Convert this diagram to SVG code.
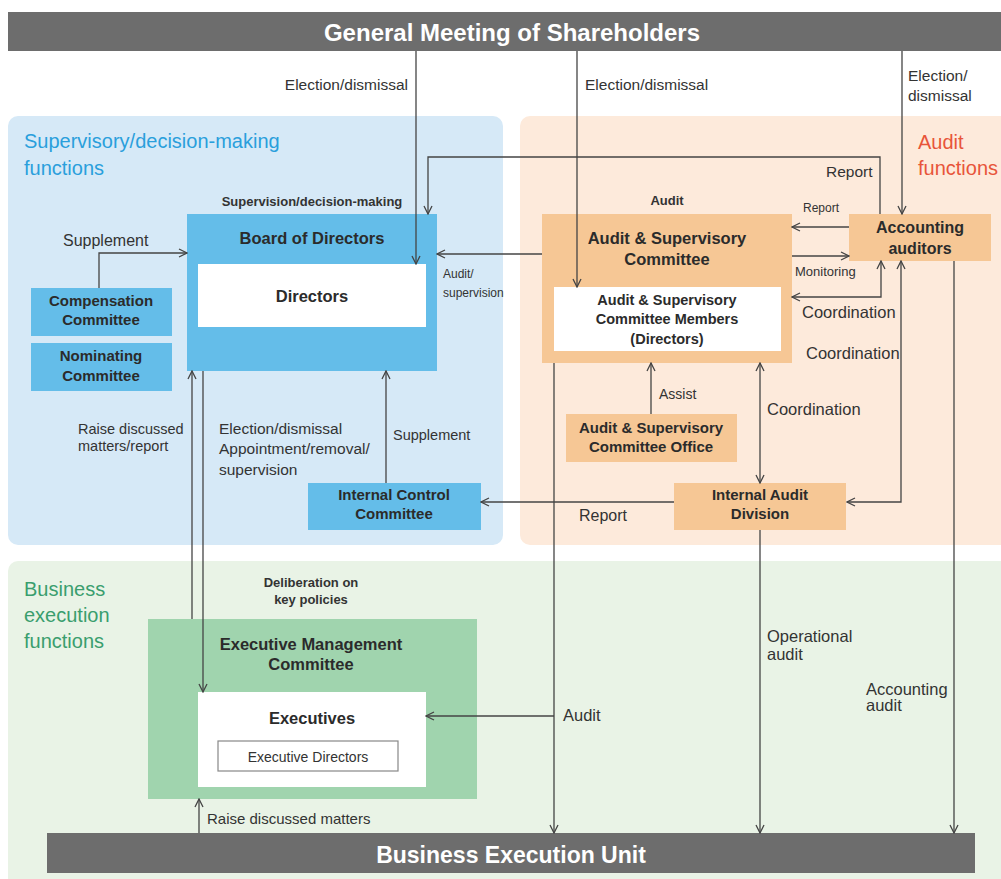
<svg xmlns="http://www.w3.org/2000/svg" width="1001" height="879" viewBox="0 0 1001 879">
<style>
text{font-family:"Liberation Sans",Arial,sans-serif;fill:#333}
.b{font-weight:bold}
.t{font-size:16px;font-weight:bold;text-anchor:middle;fill:#2b2b2b}
.s{font-size:15.5px}
.m{font-size:16.5px}
.xs{font-size:12px}
.c{text-anchor:middle}
.bar{font-size:24px;font-weight:bold;text-anchor:middle;fill:#fff}
.ln{fill:none;stroke:#444;stroke-width:1.3}
.blue{fill:#64bde9}
.org{fill:#f6c795}
.wh{fill:#fff}
</style>
<defs>
<marker id="a" viewBox="0 0 10 10" refX="9" refY="5" markerWidth="10" markerHeight="10" markerUnits="userSpaceOnUse" orient="auto-start-reverse">
<path d="M1,1 L9,5 L1,9" fill="none" stroke="#444" stroke-width="1.3"/>
</marker>
</defs>
<rect width="1001" height="879" fill="#fff"/>
<g id="regions">
<rect x="8" y="116" width="495" height="429" rx="10" fill="#d6e9f7"/>
<rect x="520" y="116" width="491" height="429" rx="10" fill="#fdeadb"/>
<rect x="8" y="561" width="1003" height="330" rx="10" fill="#e9f3e6"/>
<text x="24" y="148" style="font-size:20px;fill:#2a9fdc">Supervisory/decision-making</text>
<text x="24" y="175" style="font-size:20px;fill:#2a9fdc">functions</text>
<text x="918" y="149" style="font-size:20px;fill:#e8553a">Audit</text>
<text x="918" y="175" style="font-size:20px;fill:#e8553a">functions</text>
<text x="24" y="596" style="font-size:20px;fill:#3a9e6e">Business</text>
<text x="24" y="622" style="font-size:20px;fill:#3a9e6e">execution</text>
<text x="24" y="648" style="font-size:20px;fill:#3a9e6e">functions</text>
</g>
<g id="gms">
<rect x="8" y="12" width="993" height="39" fill="#6d6d6d"/>
<text x="512" y="41" class="bar">General Meeting of Shareholders</text>
</g>
<g id="beu">
<rect x="47" y="833" width="928" height="40" fill="#6d6d6d"/>
<text x="511" y="863" class="bar" style="font-size:23px">Business Execution Unit</text>
</g>
<g id="board">
<rect x="187" y="214" width="250" height="157" class="blue"/>
<text x="312" y="244" class="t" style="font-size:16.5px">Board of Directors</text>
<rect x="198" y="264" width="228" height="63" class="wh"/>
<text x="312" y="302" class="t" style="font-size:16.5px">Directors</text>
</g>
<g id="compensation">
<rect x="31" y="288" width="141" height="48" class="blue"/>
<text x="101" y="306" class="t" style="font-size:15px">Compensation</text>
<text x="101" y="325" class="t" style="font-size:15px">Committee</text>
</g>
<g id="nominating">
<rect x="31" y="343" width="141" height="48" class="blue"/>
<text x="101" y="361" class="t" style="font-size:15px">Nominating</text>
<text x="101" y="381" class="t" style="font-size:15px">Committee</text>
</g>
<g id="icc">
<rect x="308" y="483" width="173" height="47" class="blue"/>
<text x="394" y="500" class="t" style="font-size:15px">Internal Control</text>
<text x="394" y="519" class="t" style="font-size:15px">Committee</text>
</g>
<g id="asc">
<rect x="542" y="214" width="250" height="149" class="org"/>
<text x="667" y="244" class="t" style="font-size:16.5px">Audit &amp; Supervisory</text>
<text x="667" y="265" class="t" style="font-size:16.5px">Committee</text>
<rect x="554" y="287" width="227" height="64" class="wh"/>
<text x="667" y="305" class="t" style="font-size:14.5px">Audit &amp; Supervisory</text>
<text x="667" y="324" class="t" style="font-size:14.5px">Committee Members</text>
<text x="667" y="344" class="t" style="font-size:14.5px">(Directors)</text>
</g>
<g id="auditors">
<rect x="849" y="214" width="142" height="47" class="org"/>
<text x="920" y="233" class="t">Accounting</text>
<text x="920" y="254" class="t">auditors</text>
</g>
<g id="office">
<rect x="566" y="414" width="171" height="48" class="org"/>
<text x="651" y="433" class="t" style="font-size:15px">Audit &amp; Supervisory</text>
<text x="651" y="452" class="t" style="font-size:15px">Committee Office</text>
</g>
<g id="iad">
<rect x="674" y="483" width="172" height="47" class="org"/>
<text x="760" y="500" class="t" style="font-size:15px">Internal Audit</text>
<text x="760" y="519" class="t" style="font-size:15px">Division</text>
</g>
<g id="emc">
<rect x="148" y="619" width="329" height="180" fill="#a0d4ae"/>
<text x="311" y="650" class="t" style="font-size:16.5px">Executive Management</text>
<text x="311" y="670" class="t" style="font-size:16.5px">Committee</text>
<rect x="198" y="692" width="228" height="95" class="wh"/>
<text x="312" y="724" class="t" style="font-size:16.5px">Executives</text>
<rect x="218" y="741" width="180" height="30" fill="#fff" stroke="#888" stroke-width="1.2"/>
<text x="308" y="762" class="c" style="font-size:14px">Executive Directors</text>
</g>
<g id="connectors">
<path class="ln" d="M416,51 V264" marker-end="url(#a)"/>
<path class="ln" d="M880,214 V157 H428 V214" marker-end="url(#a)"/>
<path class="ln" d="M577,51 V287" marker-end="url(#a)"/>
<path class="ln" d="M902,51 V214" marker-end="url(#a)"/>
<path class="ln" d="M542,254 H437" marker-end="url(#a)"/>
<path class="ln" d="M849,227 H792" marker-end="url(#a)"/>
<path class="ln" d="M792,256 H849" marker-end="url(#a)"/>
<path class="ln" d="M792,297 H881 V261" marker-start="url(#a)" marker-end="url(#a)"/>
<path class="ln" d="M901,261 V502 H847" marker-start="url(#a)" marker-end="url(#a)"/>
<path class="ln" d="M651,414 V363" marker-end="url(#a)"/>
<path class="ln" d="M760,363 V483" marker-start="url(#a)" marker-end="url(#a)"/>
<path class="ln" d="M674,502 H481" marker-end="url(#a)"/>
<path class="ln" d="M386,483 V371" marker-end="url(#a)"/>
<path class="ln" d="M99,288 V253 H187" marker-end="url(#a)"/>
<path class="ln" d="M192,619 V371" marker-end="url(#a)"/>
<path class="ln" d="M203,371 V692" marker-end="url(#a)"/>
<path class="ln" d="M554,363 V833" marker-end="url(#a)"/>
<path class="ln" d="M554,716 H426" marker-end="url(#a)"/>
<path class="ln" d="M760,530 V833" marker-end="url(#a)"/>
<path class="ln" d="M954,261 V833" marker-end="url(#a)"/>
<path class="ln" d="M199,833 V799" marker-end="url(#a)"/>
</g>
<g id="labels">
<text x="408" y="90" class="s" text-anchor="end">Election/dismissal</text>
<text x="585" y="90" class="s">Election/dismissal</text>
<text x="908" y="81" class="s">Election/</text>
<text x="908" y="101" class="s">dismissal</text>
<text x="312" y="206" class="b c" style="font-size:13px">Supervision/decision-making</text>
<text x="667" y="205" class="b c" style="font-size:13px">Audit</text>
<text x="63" y="246" class="s" style="font-size:16px">Supplement</text>
<text x="443" y="278" class="xs">Audit/</text>
<text x="443" y="297" class="xs">supervision</text>
<text x="826" y="177" class="s">Report</text>
<text x="803" y="212" class="xs">Report</text>
<text x="795" y="276" class="xs" style="font-size:13px">Monitoring</text>
<text x="802" y="318" class="m">Coordination</text>
<text x="806" y="359" class="m">Coordination</text>
<text x="659" y="399" style="font-size:14px">Assist</text>
<text x="767" y="415" class="m">Coordination</text>
<text x="579" y="521" class="s" style="font-size:16px">Report</text>
<text x="78" y="434" style="font-size:14.5px">Raise discussed</text>
<text x="78" y="451" style="font-size:14.5px">matters/report</text>
<text x="219" y="434" class="s">Election/dismissal</text>
<text x="219" y="454" class="s">Appointment/removal/</text>
<text x="219" y="475" class="s">supervision</text>
<text x="393" y="440" style="font-size:14.5px">Supplement</text>
<text x="311" y="587" class="b c" style="font-size:13px">Deliberation on</text>
<text x="311" y="604" class="b c" style="font-size:13px">key policies</text>
<text x="563" y="721" class="m">Audit</text>
<text x="767" y="642" class="m">Operational</text>
<text x="767" y="660" class="m">audit</text>
<text x="866" y="695" class="m">Accounting</text>
<text x="866" y="711" class="m">audit</text>
<text x="207" y="824" style="font-size:15px">Raise discussed matters</text>
</g>
</svg>
